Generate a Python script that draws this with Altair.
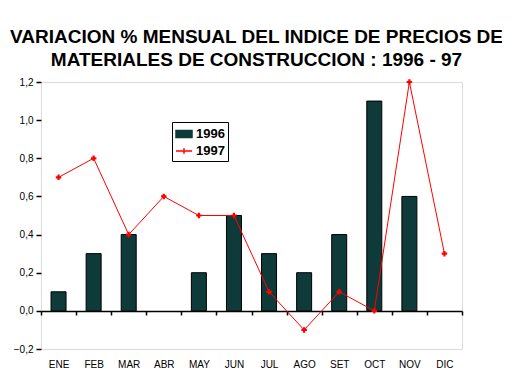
import altair as alt
import pandas as pd

meses = ["ENE", "FEB", "MAR", "ABR", "MAY", "JUN", "JUL", "AGO", "SET", "OCT", "NOV", "DIC"]
v1996 = [0.1, 0.3, 0.4, None, 0.2, 0.5, 0.3, 0.2, 0.4, 1.1, 0.6, None]
v1997 = [0.7, 0.8, 0.4, 0.6, 0.5, 0.5, 0.1, -0.1, 0.1, 0.0, 1.2, 0.3]
series = ["1996", "1997"]
y_ticks = [-0.2, 0.0, 0.2, 0.4, 0.6, 0.8, 1.0, 1.2]
title_lines = ["VARIACION % MENSUAL DEL INDICE DE PRECIOS DE",
               "MATERIALES DE CONSTRUCCION : 1996 - 97"]

df = pd.DataFrame({"mes": meses, "v1996": v1996, "v1997": v1997})

BAR_FILL = "#0e3a3a"
RED = "#ff0000"
FONT = "Liberation Sans"

x = alt.X("mes:N", sort=meses, title=None,
          scale=alt.Scale(paddingInner=0, paddingOuter=0),
          axis=alt.Axis(orient="bottom", offset=-38, labelAngle=0, tickBand="extent",
                        tickSize=4, tickColor="black", tickWidth=1.5,
                        domainColor="black", domainWidth=1.5,
                        labelPadding=44, labelFont=FONT, labelFontSize=10,
                        labelColor="black", grid=False))

yscale = alt.Scale(domain=[-0.2, 1.2], nice=False, zero=False)
yaxis = alt.Axis(values=y_ticks, grid=False, domain=False, tickSize=5,
                 tickColor="black", tickWidth=1.5, labelPadding=3,
                 labelFont=FONT, labelFontSize=10, labelColor="black",
                 labelExpr="replace(format(datum.value, '.1f'), '.', ',')")

legend = alt.Legend(
    title=None, orient="none", legendX=131, legendY=40,
    strokeColor="black", fillColor="white", padding=3,
    labelFont=FONT, labelFontSize=13, labelFontWeight="bold", labelColor="black",
    symbolSize=256, rowPadding=1, labelOffset=3,
    symbolStrokeWidth=1.5,
    symbolType={"expr": "datum.value == '1996' ? 'M-1,-0.45H1V0.45H-1Z' : 'M-1,0H1M0,-0.35V0.35'"},
    symbolStrokeColor={"expr": "datum.value == '1996' ? 'black' : '#ff0000'"},
)
color_scale = alt.Scale(domain=series, range=[BAR_FILL, RED])
color_enc = alt.Color("serie:N", scale=color_scale, legend=legend)

base = alt.Chart(df)

bars = base.transform_calculate(serie="'1996'").mark_bar(
    size=15, stroke="black", strokeWidth=1).encode(
    x=x,
    y=alt.Y("v1996:Q", scale=yscale, axis=yaxis, title=None),
    color=color_enc,
)

line = base.transform_calculate(serie="'1997'").mark_line(strokeWidth=1).encode(
    x=x,
    y=alt.Y("v1997:Q", scale=yscale, axis=yaxis, title=None),
    color=color_enc,
)

pts = base.transform_calculate(serie="'1997'").mark_point(
    shape="cross", filled=True, size=30, opacity=1).encode(
    x=x,
    y=alt.Y("v1997:Q", scale=yscale, axis=yaxis, title=None),
    color=color_enc,
)

chart = alt.layer(bars, line, pts).properties(
    width=421, height=267,
    title=alt.Title(title_lines, font=FONT, fontSize=19, fontWeight="bold",
                    color="black", anchor="middle", lineHeight=23, offset=7, dx=5),
    autosize=alt.AutoSizeParams(type="none"),
    padding={"left": 33, "top": 74, "right": 40, "bottom": 24},
).configure_view(stroke="black", strokeWidth=1.5).configure(background="white")

chart.save("out.html", embed_options={"renderer": "svg", "actions": False})
